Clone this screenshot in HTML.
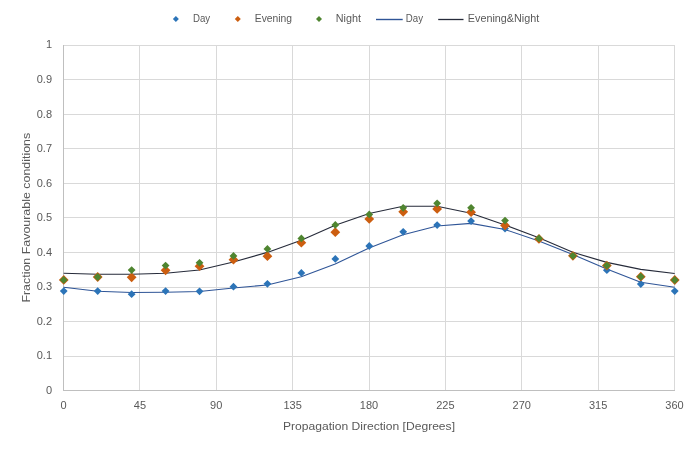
<!DOCTYPE html><html><head><meta charset="utf-8"><style>html,body{margin:0;padding:0;background:#fff;}svg{display:block;will-change:transform;}text{font-family:"Liberation Sans",sans-serif;fill:#595959;}</style></head><body>
<svg width="698" height="450" viewBox="0 0 698 450">
<rect x="0" y="0" width="698" height="450" fill="#fff"/>
<path d="M63.0 356.5H675.0M63.0 321.5H675.0M63.0 287.5H675.0M63.0 252.5H675.0M63.0 217.5H675.0M63.0 183.5H675.0M63.0 148.5H675.0M63.0 114.5H675.0M63.0 79.5H675.0M63.0 45.5H675.0M139.5 45.0V390.0M216.5 45.0V390.0M292.5 45.0V390.0M369.5 45.0V390.0M445.5 45.0V390.0M521.5 45.0V390.0M598.5 45.0V390.0M674.5 45.0V390.0" stroke="#d9d9d9" stroke-width="1" fill="none" shape-rendering="crispEdges"/>
<path d="M63.5 45V390.5H675" stroke="#bfbfbf" stroke-width="1" fill="none" shape-rendering="crispEdges"/>
<text x="52" y="393.5" font-size="11" text-anchor="end">0</text>
<text x="52" y="359.0" font-size="11" text-anchor="end">0.1</text>
<text x="52" y="324.5" font-size="11" text-anchor="end">0.2</text>
<text x="52" y="290.0" font-size="11" text-anchor="end">0.3</text>
<text x="52" y="255.5" font-size="11" text-anchor="end">0.4</text>
<text x="52" y="221.0" font-size="11" text-anchor="end">0.5</text>
<text x="52" y="186.5" font-size="11" text-anchor="end">0.6</text>
<text x="52" y="152.0" font-size="11" text-anchor="end">0.7</text>
<text x="52" y="117.5" font-size="11" text-anchor="end">0.8</text>
<text x="52" y="83.0" font-size="11" text-anchor="end">0.9</text>
<text x="52" y="47.7" font-size="11" text-anchor="end">1</text>
<text x="63.5" y="409" font-size="11" text-anchor="middle">0</text>
<text x="139.9" y="409" font-size="11" text-anchor="middle">45</text>
<text x="216.2" y="409" font-size="11" text-anchor="middle">90</text>
<text x="292.6" y="409" font-size="11" text-anchor="middle">135</text>
<text x="369.0" y="409" font-size="11" text-anchor="middle">180</text>
<text x="445.4" y="409" font-size="11" text-anchor="middle">225</text>
<text x="521.8" y="409" font-size="11" text-anchor="middle">270</text>
<text x="598.1" y="409" font-size="11" text-anchor="middle">315</text>
<text x="674.5" y="409" font-size="11" text-anchor="middle">360</text>
<text x="283" y="429.6" font-size="11" textLength="172" lengthAdjust="spacingAndGlyphs">Propagation Direction [Degrees]</text>
<text transform="translate(30,302.6) rotate(-90)" x="0" y="0" font-size="11" textLength="169.8" lengthAdjust="spacingAndGlyphs">Fraction Favourable conditions</text>
<polyline points="63.65,287.20 97.59,291.20 131.54,292.50 165.48,292.30 199.43,291.50 233.37,288.00 267.32,285.00 301.26,276.70 335.21,263.90 369.15,248.00 403.09,234.70 437.04,226.00 470.98,223.40 504.93,229.50 538.87,241.00 572.82,254.50 606.76,268.90 640.71,282.20 674.65,287.20" fill="none" stroke="#2f5597" stroke-width="1.1" stroke-linejoin="round"/>
<polyline points="63.65,273.30 97.59,274.20 131.54,274.20 165.48,273.20 199.43,270.00 233.37,262.00 267.32,252.40 301.26,240.30 335.21,225.20 369.15,213.50 403.09,206.30 437.04,206.30 470.98,213.20 504.93,225.00 538.87,237.80 572.82,252.30 606.76,262.40 640.71,269.40 674.65,273.50" fill="none" stroke="#262b3a" stroke-width="1.1" stroke-linejoin="round"/>
<path d="M63.75 287.20L67.65 291.10L63.75 295.00L59.85 291.10Z" fill="#2c74b8"/>
<path d="M97.69 287.20L101.59 291.10L97.69 295.00L93.79 291.10Z" fill="#2c74b8"/>
<path d="M131.64 290.30L135.54 294.20L131.64 298.10L127.74 294.20Z" fill="#2c74b8"/>
<path d="M165.58 287.20L169.48 291.10L165.58 295.00L161.68 291.10Z" fill="#2c74b8"/>
<path d="M199.53 287.40L203.43 291.30L199.53 295.20L195.63 291.30Z" fill="#2c74b8"/>
<path d="M233.47 282.80L237.37 286.70L233.47 290.60L229.57 286.70Z" fill="#2c74b8"/>
<path d="M267.42 279.90L271.32 283.80L267.42 287.70L263.52 283.80Z" fill="#2c74b8"/>
<path d="M301.36 269.00L305.26 272.90L301.36 276.80L297.46 272.90Z" fill="#2c74b8"/>
<path d="M335.31 255.00L339.21 258.90L335.31 262.80L331.41 258.90Z" fill="#2c74b8"/>
<path d="M369.25 242.10L373.15 246.00L369.25 249.90L365.35 246.00Z" fill="#2c74b8"/>
<path d="M403.19 227.90L407.09 231.80L403.19 235.70L399.29 231.80Z" fill="#2c74b8"/>
<path d="M437.14 221.20L441.04 225.10L437.14 229.00L433.24 225.10Z" fill="#2c74b8"/>
<path d="M471.08 217.20L474.98 221.10L471.08 225.00L467.18 221.10Z" fill="#2c74b8"/>
<path d="M505.03 224.70L508.93 228.60L505.03 232.50L501.13 228.60Z" fill="#2c74b8"/>
<path d="M538.97 235.10L542.87 239.00L538.97 242.90L535.07 239.00Z" fill="#2c74b8"/>
<path d="M572.92 252.10L576.82 256.00L572.92 259.90L569.02 256.00Z" fill="#2c74b8"/>
<path d="M606.86 266.30L610.76 270.20L606.86 274.10L602.96 270.20Z" fill="#2c74b8"/>
<path d="M640.81 280.10L644.71 284.00L640.81 287.90L636.91 284.00Z" fill="#2c74b8"/>
<path d="M674.75 287.20L678.65 291.10L674.75 295.00L670.85 291.10Z" fill="#2c74b8"/>
<path d="M63.75 275.00L68.65 279.90L63.75 284.80L58.85 279.90Z" fill="#cc5e10"/>
<path d="M97.69 272.10L102.59 277.00L97.69 281.90L92.79 277.00Z" fill="#cc5e10"/>
<path d="M131.64 272.40L136.54 277.30L131.64 282.20L126.74 277.30Z" fill="#cc5e10"/>
<path d="M165.58 265.40L170.48 270.30L165.58 275.20L160.68 270.30Z" fill="#cc5e10"/>
<path d="M199.53 261.30L204.43 266.20L199.53 271.10L194.63 266.20Z" fill="#cc5e10"/>
<path d="M233.47 254.80L238.37 259.70L233.47 264.60L228.57 259.70Z" fill="#cc5e10"/>
<path d="M267.42 251.30L272.32 256.20L267.42 261.10L262.52 256.20Z" fill="#cc5e10"/>
<path d="M301.36 237.80L306.26 242.70L301.36 247.60L296.46 242.70Z" fill="#cc5e10"/>
<path d="M335.31 227.30L340.21 232.20L335.31 237.10L330.41 232.20Z" fill="#cc5e10"/>
<path d="M369.25 214.00L374.15 218.90L369.25 223.80L364.35 218.90Z" fill="#cc5e10"/>
<path d="M403.19 206.90L408.09 211.80L403.19 216.70L398.29 211.80Z" fill="#cc5e10"/>
<path d="M437.14 204.00L442.04 208.90L437.14 213.80L432.24 208.90Z" fill="#cc5e10"/>
<path d="M471.08 207.30L475.98 212.20L471.08 217.10L466.18 212.20Z" fill="#cc5e10"/>
<path d="M505.03 220.50L509.93 225.40L505.03 230.30L500.13 225.40Z" fill="#cc5e10"/>
<path d="M538.97 234.00L543.87 238.90L538.97 243.80L534.07 238.90Z" fill="#cc5e10"/>
<path d="M572.92 250.90L577.82 255.80L572.92 260.70L568.02 255.80Z" fill="#cc5e10"/>
<path d="M606.86 260.70L611.76 265.60L606.86 270.50L601.96 265.60Z" fill="#cc5e10"/>
<path d="M640.81 271.80L645.71 276.70L640.81 281.60L635.91 276.70Z" fill="#cc5e10"/>
<path d="M674.75 275.10L679.65 280.00L674.75 284.90L669.85 280.00Z" fill="#cc5e10"/>
<path d="M63.75 276.00L67.65 279.90L63.75 283.80L59.85 279.90Z" fill="#4f8530"/>
<path d="M97.69 273.10L101.59 277.00L97.69 280.90L93.79 277.00Z" fill="#4f8530"/>
<path d="M131.64 266.20L135.54 270.10L131.64 274.00L127.74 270.10Z" fill="#4f8530"/>
<path d="M165.58 261.70L169.48 265.60L165.58 269.50L161.68 265.60Z" fill="#4f8530"/>
<path d="M199.53 258.90L203.43 262.80L199.53 266.70L195.63 262.80Z" fill="#4f8530"/>
<path d="M233.47 252.00L237.37 255.90L233.47 259.80L229.57 255.90Z" fill="#4f8530"/>
<path d="M267.42 245.00L271.32 248.90L267.42 252.80L263.52 248.90Z" fill="#4f8530"/>
<path d="M301.36 234.50L305.26 238.40L301.36 242.30L297.46 238.40Z" fill="#4f8530"/>
<path d="M335.31 221.00L339.21 224.90L335.31 228.80L331.41 224.90Z" fill="#4f8530"/>
<path d="M369.25 210.50L373.15 214.40L369.25 218.30L365.35 214.40Z" fill="#4f8530"/>
<path d="M403.19 203.90L407.09 207.80L403.19 211.70L399.29 207.80Z" fill="#4f8530"/>
<path d="M437.14 199.40L441.04 203.30L437.14 207.20L433.24 203.30Z" fill="#4f8530"/>
<path d="M471.08 203.90L474.98 207.80L471.08 211.70L467.18 207.80Z" fill="#4f8530"/>
<path d="M505.03 216.70L508.93 220.60L505.03 224.50L501.13 220.60Z" fill="#4f8530"/>
<path d="M538.97 234.50L542.87 238.40L538.97 242.30L535.07 238.40Z" fill="#4f8530"/>
<path d="M572.92 251.90L576.82 255.80L572.92 259.70L569.02 255.80Z" fill="#4f8530"/>
<path d="M606.86 261.70L610.76 265.60L606.86 269.50L602.96 265.60Z" fill="#4f8530"/>
<path d="M640.81 272.80L644.71 276.70L640.81 280.60L636.91 276.70Z" fill="#4f8530"/>
<path d="M674.75 276.10L678.65 280.00L674.75 283.90L670.85 280.00Z" fill="#4f8530"/>
<path d="M175.90 15.90L178.90 18.90L175.90 21.90L172.90 18.90Z" fill="#2c74b8"/>
<text x="192.9" y="21.8" font-size="11.5" textLength="17.2" lengthAdjust="spacingAndGlyphs">Day</text>
<path d="M237.80 15.90L240.80 18.90L237.80 21.90L234.80 18.90Z" fill="#cc5e10"/>
<text x="254.8" y="21.8" font-size="11.5" textLength="37.2" lengthAdjust="spacingAndGlyphs">Evening</text>
<path d="M319.00 16.00L322.00 19.00L319.00 22.00L316.00 19.00Z" fill="#4f8530"/>
<text x="335.7" y="21.8" font-size="11.5" textLength="25.2" lengthAdjust="spacingAndGlyphs">Night</text>
<path d="M376 19.5H402.7" stroke="#2f5597" stroke-width="1.4"/>
<text x="405.8" y="21.8" font-size="11.5" textLength="17.2" lengthAdjust="spacingAndGlyphs">Day</text>
<path d="M438.2 19.5H463.5" stroke="#262b3a" stroke-width="1.3"/>
<text x="467.8" y="21.8" font-size="11.5" textLength="71.4" lengthAdjust="spacingAndGlyphs">Evening&amp;Night</text>
</svg></body></html>
